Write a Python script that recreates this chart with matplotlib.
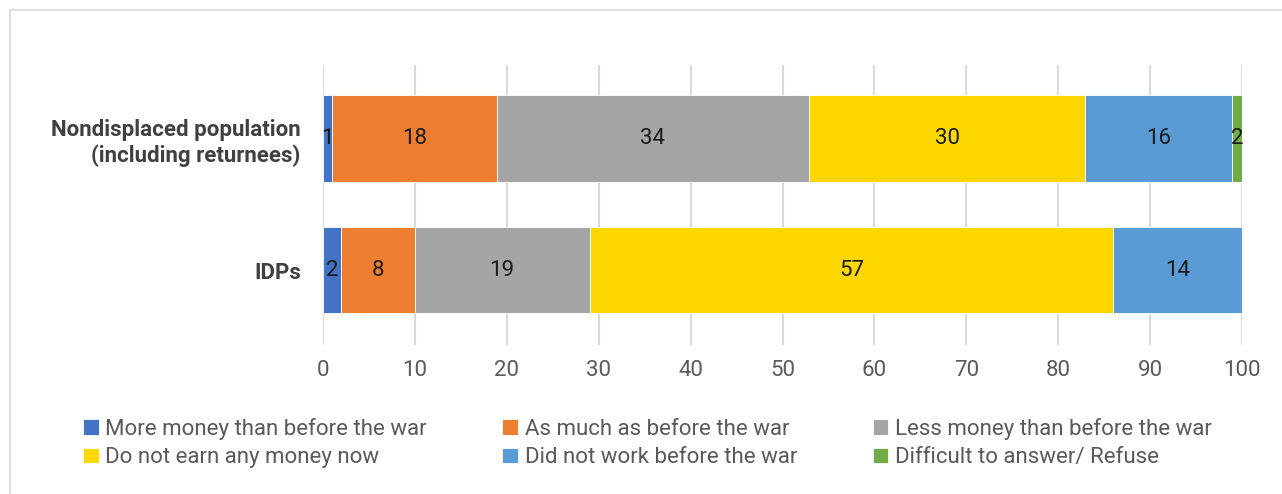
import numpy as np
import matplotlib
matplotlib.use("Agg")
import matplotlib.pyplot as plt
from matplotlib.patches import Rectangle

plt.rcParams['font.family'] = ['Roboto', 'DejaVu Sans']

groups = ["IDPs", "Nondisplaced population\n(including returnees)"]
series = ["More money than before the war", "As much as before the war",
          "Less money than before the war", "Do not earn any money now",
          "Did not work before the war", "Difficult to answer/ Refuse"]
colors = ["#4472c4", "#ed7d31", "#a5a5a5", "#ffd700", "#5b9bd5", "#70ad47"]

# shares per series: [IDPs, Nondisplaced]
more_money = [2.0, 1.0]
as_much = [8.0, 17.9]
less_money = [19.0, 34.0]
no_money = [57.0, 30.0]
did_not_work = [14.0, 16.0]
difficult = [0.2, 1.1]
values = [more_money, as_much, less_money, no_money, did_not_work, difficult]

labels_idp = ["2", "8", "19", "57", "14", ""]
labels_nd = ["1", "18", "34", "30", "16", "2"]

fig = plt.figure(figsize=(12.82, 4.94), dpi=100)
ax = fig.add_axes([323/1282, 1-345/494, (1242-323)/1282, 280/494])

y = np.arange(len(groups))
left = np.zeros(len(groups))
handles = []
for i, v in enumerate(values):
    b = ax.barh(y, v, left=left, height=0.66, color=colors[i], edgecolor="white",
                linewidth=0.6, label=series[i], zorder=3)
    handles.append(b)
    for j in range(len(groups)):
        lab = (labels_idp if j == 0 else labels_nd)[i]
        if lab:
            ax.text(left[j] + v[j]/2, y[j], lab, ha="center", va="center",
                    fontsize=16, color="#1a1a1a", zorder=4)
    left = left + np.array(v)

ax.set_xlim(0, 100)
ax.set_ylim(-0.57, 1.56)
ax.set_xticks(np.arange(0, 101, 10))
ax.set_yticks(y)
ax.set_yticklabels(groups, fontsize=16, fontweight="bold", color="#404040",
                   linespacing=1.2)
ax.tick_params(axis="x", labelsize=16, labelcolor="#595959", length=0, pad=11)
ax.tick_params(axis="y", length=0, pad=16)
for s in ax.spines.values():
    s.set_visible(False)
ax.grid(axis="x", color="#d9d9d9", linewidth=1.5, zorder=0)

order = [0, 3, 1, 4, 2, 5]
fig.legend([handles[k] for k in order], [series[k] for k in order], ncol=3,
           loc="center", bbox_to_anchor=(0.505, 1-443/494), frameon=False,
           fontsize=16, labelcolor="#595959", handlelength=0.7, handleheight=0.7,
           handletextpad=0.3, columnspacing=3.4, labelspacing=0.35)

fig.patches.append(Rectangle((10/1282, -0.1), 1.1, 1-10/494+0.1,
                             transform=fig.transFigure, fill=False,
                             edgecolor="#d9d9d9", linewidth=1.2))

fig.savefig("out.png", dpi=100)
